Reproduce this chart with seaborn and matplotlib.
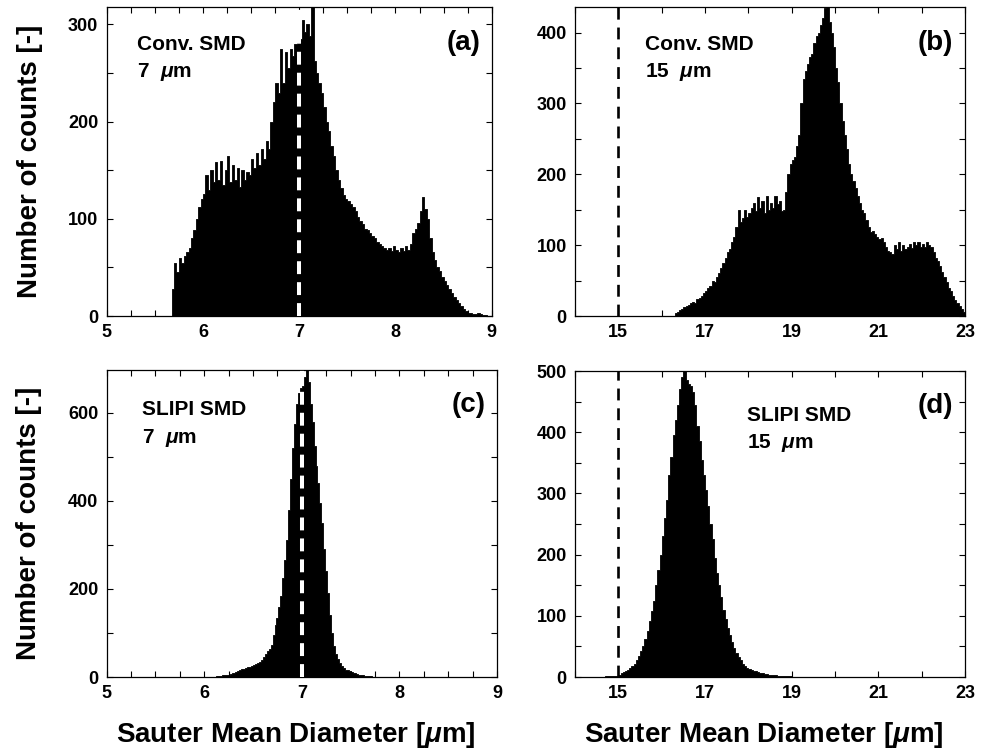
import numpy as np
import pandas as pd
import matplotlib
matplotlib.use("Agg")
import matplotlib.pyplot as plt
from matplotlib.ticker import MultipleLocator
import seaborn as sns

# ---------------- data (histogram bin counts) ----------------
# (a) Conventional SMD, 7 um target
a_first_edge = 5.675
a_bin_width = 0.025
a_counts = [28, 55, 45, 60, 55, 62, 66, 70, 80, 88,
            100, 112, 120, 126, 145, 130, 150, 138, 158, 140,
            160, 135, 150, 165, 138, 155, 140, 152, 133, 150,
            140, 148, 145, 162, 152, 168, 155, 172, 162, 180,
            172, 200, 220, 240, 230, 275, 240, 272, 255, 275,
            268, 280, 290, 285, 305, 292, 300, 288, 330, 262,
            250, 240, 230, 215, 200, 190, 175, 165, 150, 140,
            132, 125, 120, 118, 115, 112, 108, 102, 98, 95,
            90, 88, 85, 82, 80, 76, 74, 72, 70, 68,
            70, 67, 72, 68, 66, 70, 67, 72, 68, 74,
            85, 90, 96, 108, 122, 110, 100, 80, 66, 58,
            50, 46, 40, 36, 32, 28, 24, 20, 16, 13,
            10, 7, 5, 3, 3, 2, 2, 3, 2, 1, 1]

# (b) Conventional SMD, 15 um target
b_first_edge = 16.30
b_bin_width = 0.05
b_counts = [4, 6, 8, 10, 12, 14, 15, 18, 20, 19,
            24, 26, 28, 32, 35, 40, 42, 50, 48, 55,
            60, 68, 75, 82, 90, 95, 105, 112, 125, 150,
            132, 138, 150, 140, 145, 152, 160, 148, 168, 152,
            162, 145, 170, 150, 160, 152, 170, 158, 162, 148,
            150, 175, 200, 215, 220, 225, 240, 255, 300, 335,
            345, 355, 365, 370, 385, 395, 400, 410, 420, 435,
            450, 415, 400, 380, 350, 330, 300, 275, 255, 235,
            215, 200, 190, 180, 170, 160, 150, 145, 135, 125,
            118, 120, 115, 112, 108, 110, 104, 98, 92, 90,
            88, 100, 95, 105, 92, 100, 94, 98, 102, 96,
            104, 100, 105, 98, 102, 98, 104, 100, 98, 90,
            82, 78, 70, 62, 55, 48, 40, 35, 28, 22,
            18, 14, 10, 6]

# (c) SLIPI SMD, 7 um target
c_first_edge = 6.10
c_bin_width = 0.02
c_counts = [1, 2, 3, 3, 4, 4, 5, 5, 6, 8,
            10, 12, 14, 16, 18, 19, 20, 22, 23, 25,
            27, 29, 31, 34, 38, 46, 52, 58, 64, 72,
            95, 118, 135, 160, 185, 225, 265, 310, 380, 450,
            520, 575, 620, 645, 655, 660, 680, 720, 670, 620,
            580, 525, 480, 440, 395, 350, 290, 240, 190, 140,
            100, 70, 52, 40, 32, 26, 21, 17, 15, 13,
            11, 10, 8, 7, 5, 5, 4, 3, 3, 2,
            2, 1, 1, 1]

# (d) SLIPI SMD, 15 um target
d_first_edge = 14.70
d_bin_width = 0.05
d_counts = [1, 1, 1, 1, 2, 2, 4, 6, 8, 10,
            12, 15, 18, 22, 28, 35, 42, 50, 62, 75,
            92, 108, 125, 150, 175, 200, 230, 260, 290, 330,
            360, 395, 420, 445, 470, 490, 500, 485, 478, 476,
            465, 445, 410, 385, 355, 330, 305, 280, 250, 225,
            195, 170, 150, 130, 110, 95, 80, 68, 58, 48,
            40, 33, 27, 22, 18, 15, 13, 11, 10, 9,
            8, 7, 6, 5, 5, 4, 4, 3, 3, 2,
            2, 2, 1, 1, 1, 1]

panel_labels = ["(a)", "(b)", "(c)", "(d)"]
method_labels = ["Conv. SMD", "Conv. SMD", "SLIPI SMD", "SLIPI SMD"]
size_labels = ["7  $\\mu$m", "15  $\\mu$m", "7  $\\mu$m", "15  $\\mu$m"]
reference_sizes = [7, 15, 7, 15]
x_tick_labels_left = [5, 6, 7, 8, 9]
x_tick_labels_right = [15, 17, 19, 21, 23]

# ---------------- style ----------------
sns.set_style("ticks")
plt.rcParams["font.family"] = ["Liberation Sans", "DejaVu Sans"]
plt.rcParams["font.weight"] = "bold"
plt.rcParams["axes.labelweight"] = "bold"
plt.rcParams["text.color"] = "black"
plt.rcParams["axes.labelcolor"] = "black"
plt.rcParams["xtick.color"] = "black"
plt.rcParams["ytick.color"] = "black"
plt.rcParams["mathtext.fontset"] = "custom"
plt.rcParams["mathtext.rm"] = "Liberation Sans:bold"
plt.rcParams["mathtext.it"] = "Liberation Sans:italic:bold"
plt.rcParams["mathtext.bf"] = "Liberation Sans:bold"
plt.rcParams["mathtext.default"] = "it"

W, H = 987, 753
fig = plt.figure(figsize=(W / 100, H / 100), dpi=100)


def add_ax(l, t, r, b):
    return fig.add_axes([l / W, 1 - b / H, (r - l) / W, (b - t) / H])


boxes = [(106.7, 7, 491.7, 316), (575, 7, 965, 316),
         (106.7, 370, 497, 677), (575, 371, 965, 677)]
datasets = [(a_first_edge, a_bin_width, a_counts),
            (b_first_edge, b_bin_width, b_counts),
            (c_first_edge, c_bin_width, c_counts),
            (d_first_edge, d_bin_width, d_counts)]
xlims = [(5, 9), (14, 23), (5, 9), (14, 23)]
ylims = [(0, 318), (0, 436), (0, 697), (0, 500)]
ymajor = [100, 100, 200, 100]
yminor = [50, 50, 100, 50]
line_colors = ["white", "black", "white", "black"]
text_x = [0.078, 0.18, 0.09, 0.44]
text_y1 = [0.88, 0.88, 0.87, 0.853]
text_y2 = [0.79, 0.79, 0.78, 0.765]

for i in range(4):
    ax = add_ax(*boxes[i])
    first, width, counts = datasets[i]
    n = len(counts)
    centers = first + width * (np.arange(n) + 0.5)
    df = pd.DataFrame({"diameter": centers, "count": np.asarray(counts, float)})
    sns.histplot(data=df, x="diameter", weights="count",
                 binwidth=width, binrange=(first, first + n * width),
                 element="step", fill=True, color="black", alpha=1,
                 linewidth=0.6, ax=ax)
    ax.set_xlim(*xlims[i])
    ax.set_ylim(*ylims[i])

    if line_colors[i] == "white":
        ax.axvline(reference_sizes[i], color="white", lw=2.9,
                   ls=(0, (3.2, 2.0)), zorder=5)
    else:
        ax.axvline(reference_sizes[i], color="black", lw=1.9,
                   ls=(0, (4.5, 3.0)), zorder=5)

    if i in (0, 2):
        ax.set_xticks(x_tick_labels_left)
        ax.xaxis.set_minor_locator(MultipleLocator(0.25))
    else:
        ax.set_xticks(x_tick_labels_right)
        ax.xaxis.set_minor_locator(MultipleLocator(1))
    ax.yaxis.set_major_locator(MultipleLocator(ymajor[i]))
    ax.yaxis.set_minor_locator(MultipleLocator(yminor[i]))

    ax.tick_params(which="both", direction="in", top=True, right=True,
                   length=4, width=0.8, labelsize=13, pad=6,
                   color="black", labelcolor="black")
    for s in ax.spines.values():
        s.set_visible(True)
        s.set_linewidth(0.9)
        s.set_color("black")

    ax.set_xlabel("")
    ax.set_ylabel("")
    if i in (0, 2):
        ax.set_ylabel("Number of counts [-]", fontsize=20, fontweight="bold",
                      color="black")
        ax.yaxis.set_label_coords(-0.2, 0.5)
        ax.yaxis.label.set_va("center")
    if i in (2, 3):
        ax.set_xlabel("Sauter Mean Diameter [$\\mu$m]", fontsize=20,
                      fontweight="bold", color="black")
        ax.xaxis.set_label_coords(0.485, -0.19)
        ax.xaxis.label.set_va("center")

    ax.text(text_x[i], text_y1[i], method_labels[i], transform=ax.transAxes,
            fontsize=15, fontweight="bold", ha="left", va="center", zorder=6,
            color="black")
    ax.text(text_x[i], text_y2[i], size_labels[i], transform=ax.transAxes,
            fontsize=15, fontweight="bold", ha="left", va="center", zorder=6,
            color="black")
    ax.text(0.97, 0.885, panel_labels[i], transform=ax.transAxes,
            fontsize=20, fontweight="bold", ha="right", va="center", zorder=6,
            color="black")

fig.savefig("out.png", dpi=100)
